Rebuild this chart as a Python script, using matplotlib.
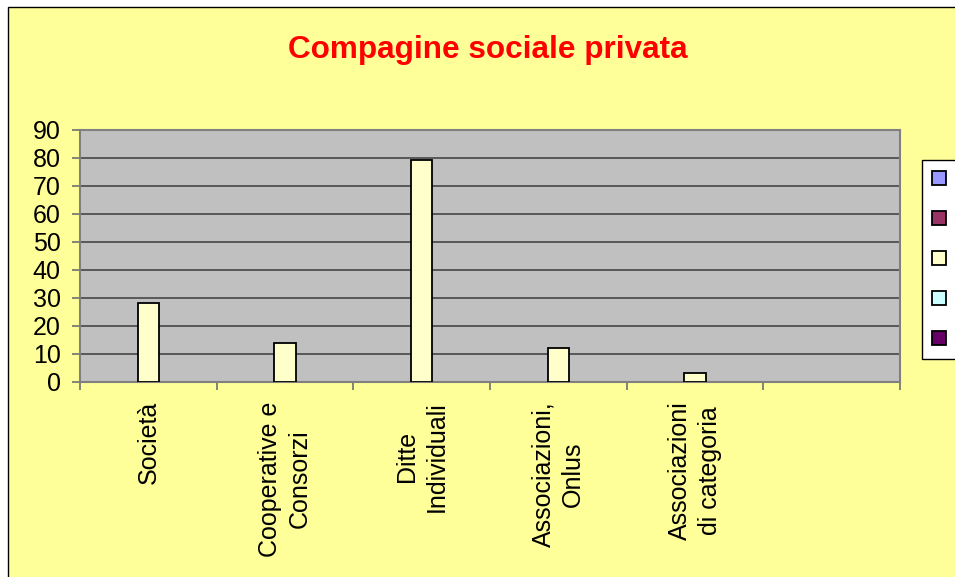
import numpy as np
import matplotlib
matplotlib.use("Agg")
import matplotlib.pyplot as plt
from matplotlib.patches import Rectangle, Patch

plt.rcParams['font.family'] = ['Liberation Sans', 'DejaVu Sans']

# ---- data ----
categories = ["Società", "Cooperative e\nConsorzi", "Ditte\nIndividuali",
              "Associazioni,\nOnlus", "Associazioni\ndi categoria", ""]
series_colors = ["#9999FF", "#993366", "#FFFFCC", "#CCFFFF", "#660066"]
series_values = [
    [np.nan] * 6,
    [np.nan] * 6,
    [28, 14, 79, 12, 3, np.nan],
    [np.nan] * 6,
    [np.nan] * 6,
]
yticks = list(range(0, 91, 10))
title = "Compagine sociale privata"

W, H = 955, 577
fig = plt.figure(figsize=(W / 100, H / 100), dpi=100, facecolor="white")

# chart area background with border
fig.patches.append(Rectangle((8 / W, -0.1), 1.2, 1 - 7 / H + 0.1,
                             transform=fig.transFigure, facecolor="#FFFF99",
                             edgecolor="black", linewidth=1.0, zorder=-5))

left, right = 80 / W, 900 / W
bottom, top = 1 - 381.7 / H, 1 - 129.7 / H
ax = fig.add_axes([left, bottom, right - left, top - bottom])
ax.set_zorder(1)
ax.set_facecolor("#C0C0C0")

n_series = len(series_values)
w = 1 / 6.5
x = np.arange(len(categories))
for k, (vals, col) in enumerate(zip(series_values, series_colors)):
    ax.bar(x + (k - (n_series - 1) / 2) * w, vals, width=w, color=col,
           edgecolor="black", linewidth=1.3, zorder=3)

ax.set_xlim(-0.5, len(categories) - 0.5)
ax.set_ylim(0, 90)
ax.set_yticks(yticks)
ax.set_yticklabels([str(v) for v in yticks], fontsize=18)
ax.yaxis.grid(True, color="#505050", linewidth=1.3, zorder=1)
ax.set_axisbelow(True)

ax.set_xticks(x)
ax.set_xticklabels(categories, rotation=90, ha="center", va="top",
                   multialignment="center", fontsize=18, linespacing=1.3)
ax.tick_params(axis="x", which="major", length=0, pad=14)
ax.set_xticks(np.arange(-0.5, len(categories)), minor=True)
ax.tick_params(axis="x", which="minor", length=6, width=1.2, color="#707070",
               direction="out")
ax.tick_params(axis="y", length=6, width=1.2, color="#707070", pad=8)

for s in ax.spines.values():
    s.set_color("#808080")
    s.set_linewidth(1.5)

fig.text(487.5 / W, 1 - 58 / H, title, color="#FF0000", fontsize=22.7,
         fontweight="bold", ha="center", va="baseline", zorder=2)

handles = [Patch(facecolor=c, edgecolor="black", linewidth=1.3)
           for c in series_colors]
leg = fig.legend(handles, [""] * 5, loc="upper left",
                 bbox_to_anchor=(922 / W, 1 - 160 / H), borderaxespad=0,
                 fontsize=14.4, handlelength=0.7, handleheight=0.7,
                 handletextpad=3, borderpad=0.5, labelspacing=1.05,
                 fancybox=False, framealpha=1, edgecolor="black")
leg.get_frame().set_linewidth(1.0)
leg.set_zorder(3)

fig.savefig("out.png", dpi=100, facecolor="white")
